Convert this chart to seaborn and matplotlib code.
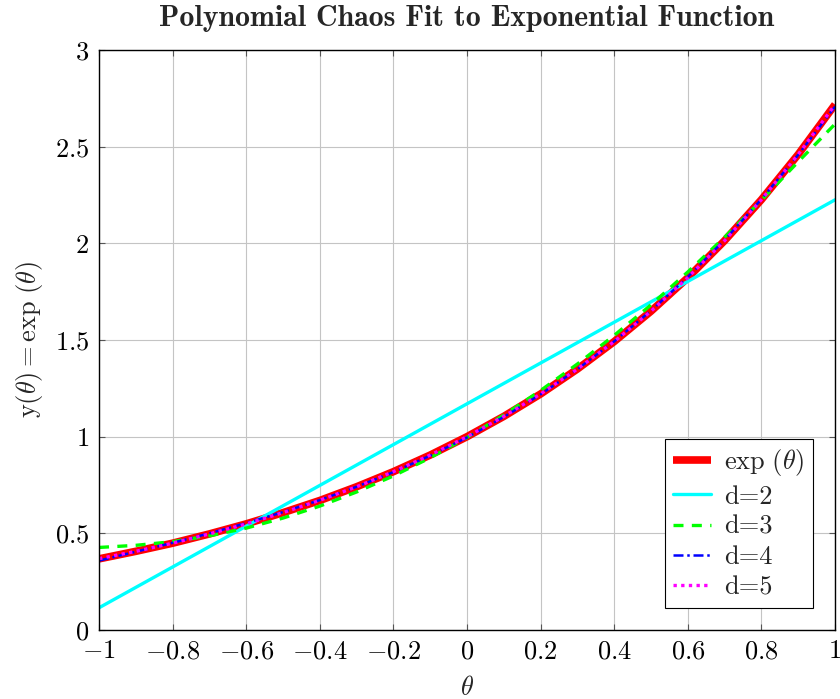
import numpy as np
import pandas as pd
import seaborn as sns
import matplotlib
matplotlib.use("Agg")
import matplotlib.pyplot as plt
from matplotlib.ticker import FixedLocator, FixedFormatter

theta = [-1.0, -0.9, -0.8, -0.7, -0.6, -0.5, -0.4, -0.3, -0.2, -0.1, 0.0,
         0.1, 0.2, 0.3, 0.4, 0.5, 0.6, 0.7, 0.8, 0.9, 1.0]
y_exp = [0.368, 0.407, 0.449, 0.497, 0.549, 0.607, 0.670, 0.741, 0.819, 0.905, 1.000,
         1.105, 1.221, 1.350, 1.492, 1.649, 1.822, 2.014, 2.226, 2.460, 2.718]
theta_d2 = [-1.0, 1.0]
y_d2 = [0.115, 2.225]
y_d3 = [0.427, 0.438, 0.457, 0.487, 0.527, 0.579, 0.641, 0.714, 0.797, 0.891, 0.996,
        1.112, 1.239, 1.376, 1.524, 1.682, 1.852, 2.032, 2.223, 2.422, 2.617]
y_d4 = [0.359, 0.405, 0.451, 0.500, 0.553, 0.610, 0.672, 0.741, 0.817, 0.902, 0.996,
        1.102, 1.219, 1.349, 1.493, 1.652, 1.826, 2.018, 2.228, 2.458, 2.707]
y_d5 = [0.369, 0.407, 0.449, 0.497, 0.549, 0.607, 0.671, 0.741, 0.819, 0.905, 1.000,
        1.105, 1.221, 1.350, 1.492, 1.649, 1.823, 2.014, 2.226, 2.460, 2.717]

x_ticks = [-1, -0.8, -0.6, -0.4, -0.2, 0, 0.2, 0.4, 0.6, 0.8, 1]
x_ticklabels = ["$-1$", "$-0.8$", "$-0.6$", "$-0.4$", "$-0.2$", "$0$",
                "$0.2$", "$0.4$", "$0.6$", "$0.8$", "$1$"]
y_ticks = [0, 0.5, 1, 1.5, 2, 2.5, 3]
y_ticklabels = ["$0$", "$0.5$", "$1$", "$1.5$", "$2$", "$2.5$", "$3$"]

sns.set_theme(style="whitegrid")
plt.rcParams["font.family"] = ["cmr10", "DejaVu Serif"]
plt.rcParams["mathtext.fontset"] = "cm"
plt.rcParams["axes.unicode_minus"] = False

fig = plt.figure(figsize=(8.4, 6.99), dpi=100)
ax = fig.add_axes([0.1179, 0.0987, 0.8762, 0.8298])

common = dict(ax=ax, sort=False, solid_joinstyle="round", dash_joinstyle="round")
sns.lineplot(x=theta, y=y_exp, color=(1, 0, 0), linewidth=5.5,
             label=r"$\exp\,(\theta)$", solid_capstyle="butt", **common)
sns.lineplot(x=theta_d2, y=y_d2, color=(0, 1, 1), linewidth=2.4,
             label="d=2", **common)
sns.lineplot(x=theta, y=y_d3, color=(0, 1, 0), linewidth=2.4,
             label="d=3", linestyle=(0, (3, 2.5)), **common)
sns.lineplot(x=theta, y=y_d4, color=(0, 0, 1), linewidth=1.8,
             label="d=4", linestyle=(0, (4, 1.5, 1, 1.5)), **common)
sns.lineplot(x=theta, y=y_d5, color=(1, 0, 1), linewidth=2.4,
             label="d=5", linestyle=(0, (1, 1.3)), **common)

ax.set_xlim(-1, 1)
ax.set_ylim(0, 3)
ax.xaxis.set_major_locator(FixedLocator(x_ticks))
ax.xaxis.set_major_formatter(FixedFormatter(x_ticklabels))
ax.yaxis.set_major_locator(FixedLocator(y_ticks))
ax.yaxis.set_major_formatter(FixedFormatter(y_ticklabels))
ax.tick_params(axis="both", labelsize=19, direction="in", length=4,
               color="#555555", width=0.8, labelcolor="black")
ax.tick_params(axis="x", pad=7)
ax.tick_params(axis="y", pad=7)
ax.tick_params(axis="both", which="both", top=True, right=True, bottom=True, left=True)
ax.grid(True, color="#c4c4c4", linewidth=0.8)
for s in ax.spines.values():
    s.set_color("black")
    s.set_linewidth(1.0)
    s.set_visible(True)

ax.set_xlabel(r"$\theta$", fontsize=19, labelpad=9)
ax.set_ylabel(r"y$(\theta) = \exp\,(\theta)$", fontsize=19, labelpad=7)
ax.set_title("Polynomial Chaos Fit to Exponential Function", fontsize=21.5,
             fontweight="bold", family=["cmb10", "DejaVu Serif"], pad=17)

leg = ax.legend(loc="lower right", fontsize=19, frameon=True, fancybox=False,
                edgecolor="black", framealpha=1.0, handlelength=1.45,
                labelspacing=0.25, borderpad=0.3, handletextpad=0.5,
                borderaxespad=0.85)
leg.get_frame().set_linewidth(0.8)

fig.savefig("out.png", dpi=100)
